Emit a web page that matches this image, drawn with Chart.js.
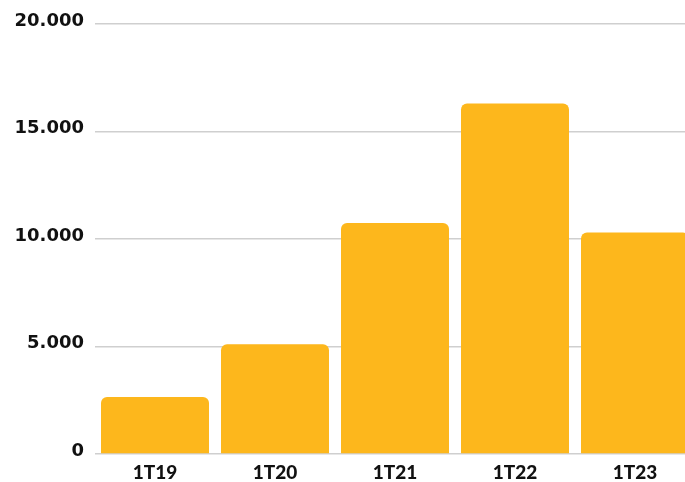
<!DOCTYPE html>
<html>
<head>
<meta charset="utf-8">
<script src="https://cdn.jsdelivr.net/npm/chart.js@4/dist/chart.umd.min.js"></script>
<style>
html,body{margin:0;padding:0;background:#fff;overflow:hidden;width:685px;height:482px;}
#wrap{position:relative;width:695px;height:482px;}
</style>
</head>
<body>
<div id="wrap"><canvas id="c"></canvas></div>
<script>
const categories = ['1T19','1T20','1T21','1T22','1T23'];
const values = [2650, 5100, 10750, 16300, 10300];
const yTicks = [0, 5000, 10000, 15000, 20000];

function fmt(v){ return v.toString().replace(/\B(?=(\d{3})+(?!\d))/g,'.'); }

new Chart(document.getElementById('c'), {
  type: 'bar',
  data: {
    labels: categories,
    datasets: [{
      data: values,
      backgroundColor: '#FDB71C',
      borderRadius: {topLeft: 6, topRight: 6, bottomLeft: 0, bottomRight: 0},
      borderSkipped: false,
      categoryPercentage: 0.9,
      barPercentage: 1.0
    }]
  },
  options: {
    responsive: true,
    maintainAspectRatio: false,
    animation: false,
    layout: {padding: {top: 24, right: 0, left: 0, bottom: 0}},
    plugins: {legend: {display: false}, tooltip: {enabled: false}},
    scales: {
      x: {
        grid: {display: false},
        border: {display: false},
        ticks: {color: '#111', font: {family: 'Lato', size: 19, weight: 900, lineHeight: 1.1}, padding: 0},
        afterFit: s => { s.height = 28; }
      },
      y: {
        min: 0, max: 20000,
        afterBuildTicks: s => { s.ticks = yTicks.map(v => ({value: v})); },
        grid: {color: '#cfcfcf', lineWidth: 1.5, drawTicks: false},
        border: {display: false},
        ticks: {color: '#111', font: {family: 'DejaVu Sans', size: 18, weight: 'bold'}, padding: 11, labelOffset: -3, callback: v => fmt(v)},
        afterFit: s => { s.width = 95; }
      }
    }
  }
});
</script>
</body>
</html>
